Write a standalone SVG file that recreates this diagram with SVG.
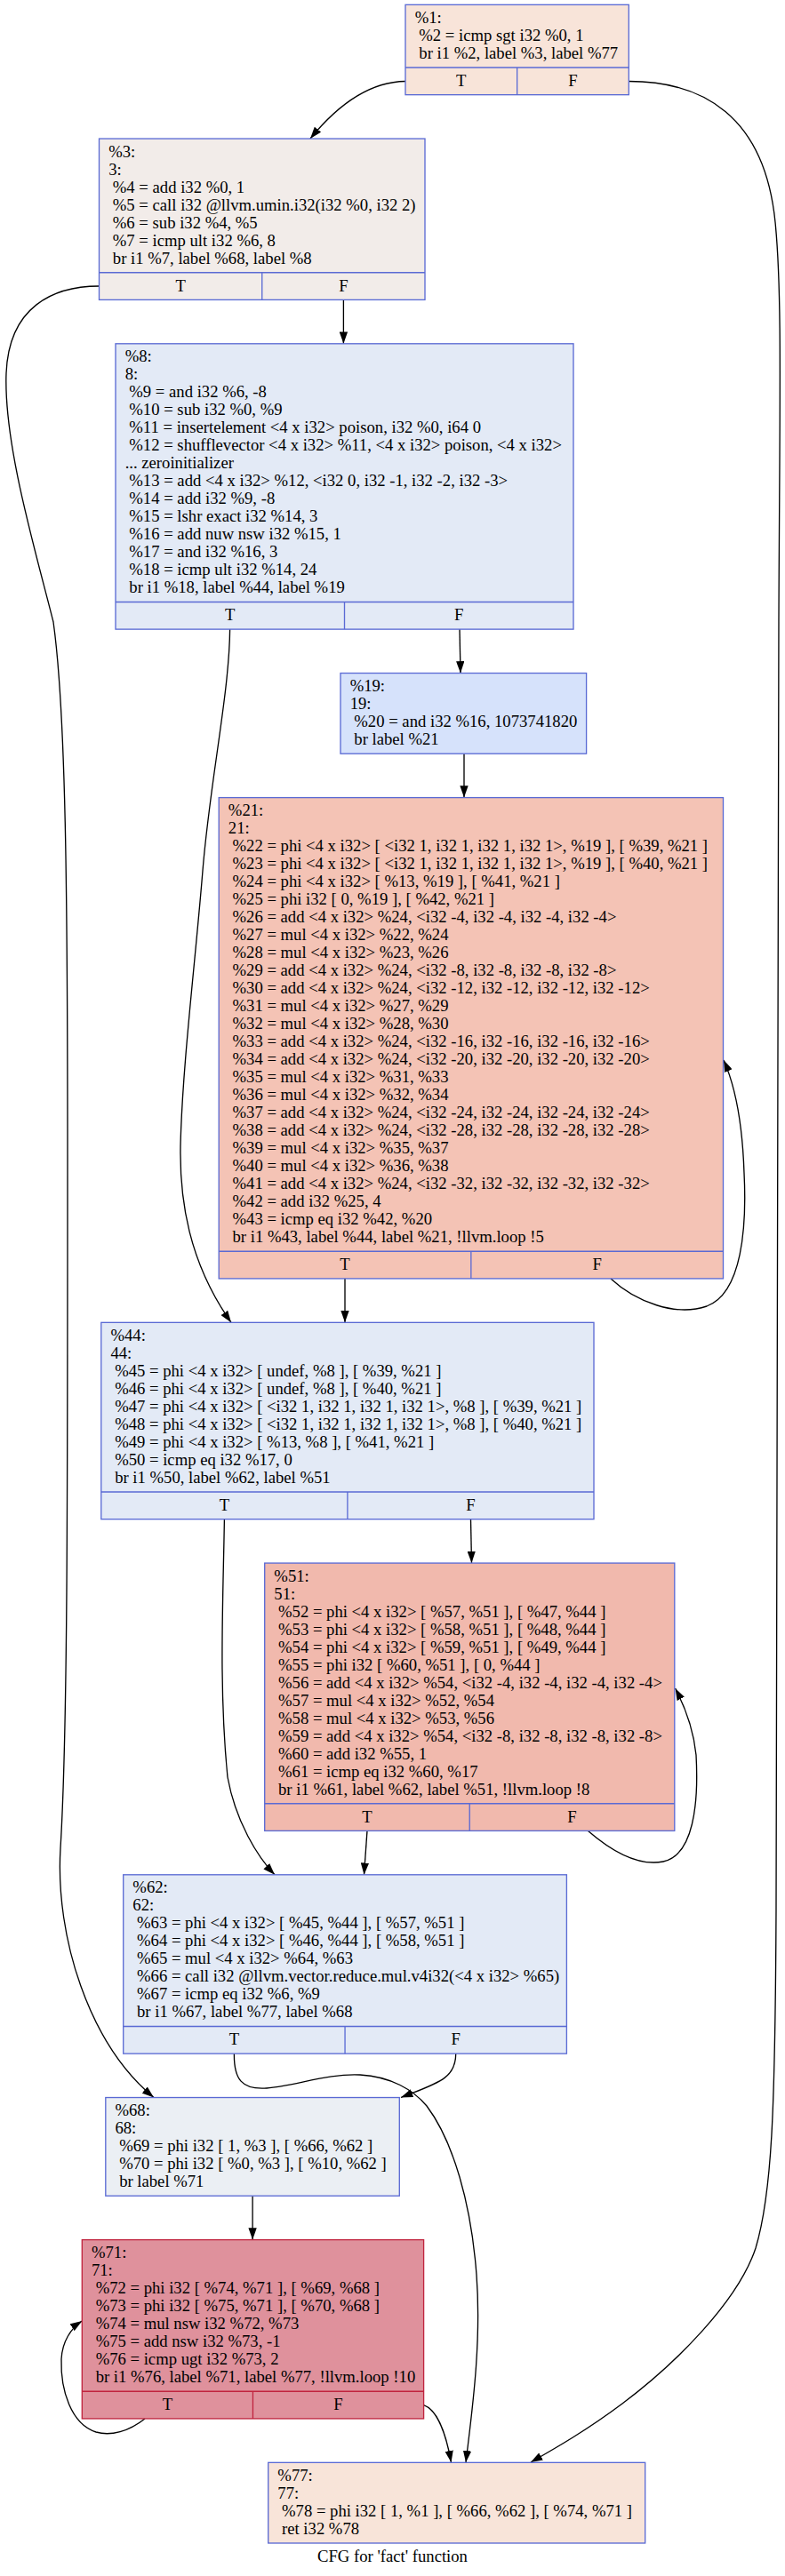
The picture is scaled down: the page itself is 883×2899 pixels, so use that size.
<svg xmlns="http://www.w3.org/2000/svg" width="883" height="2899" viewBox="0 0 883 2899">
<defs>
<style>
text{font-family:"Liberation Serif","Times New Roman",serif;font-size:18.67px;fill:#000}
.tf{text-anchor:middle}
.box{stroke:#5a6ad4;stroke-width:1.33}
.boxr{stroke:#c0243e;stroke-width:1.33}
.sep{stroke:#5a6ad4;stroke-width:1.33}
.sepr{stroke:#c0243e;stroke-width:1.33}
.e{fill:none;stroke:#000;stroke-width:1.33;marker-end:url(#ah)}
.peach{fill:#f8e4d9}
.gray{fill:#f2ece9}
.lblue{fill:#e3eaf6}
.blue{fill:#d6e2fb}
.salmon{fill:#f4c3b5}
.salmon2{fill:#f1b9ad}
.gblue{fill:#ebeff4}
.rose{fill:#df919c}
</style>
<marker id="ah" markerUnits="userSpaceOnUse" viewBox="0 0 13.33 9.33" refX="13.33" refY="4.67" markerWidth="13.33" markerHeight="9.33" orient="auto">
<path d="M0,0 L13.33,4.67 L0,9.33 z" fill="#000"/>
</marker>
</defs>
<rect width="883" height="2899" fill="#fff"/>

<g id="edges">
<path class="e" d="M456,91.5 C415,92 380,118 349,156"/>
<path class="e" d="M707.3,91.5 C790,91.5 860,130 872,250 C880,330 877,450 876,700 C874,1300 874,1900 873,2150 C872,2380 868,2470 850,2530 C830,2590 760,2660 700,2705 C660,2735 625,2755 597,2771"/>
<path class="e" d="M111.5,322 C60,322 10,345 7,420 C4,500 40,620 60,700 C74,800 76,1000 76,1300 C76,1700 76,1950 68,2080 C62,2180 100,2300 173,2360.5"/>
<path class="e" d="M386.4,337.4 L386.4,386.8"/>
<path class="e" d="M258.6,708.1 C258,780 236,880 228,980 C220,1080 205,1200 203,1290 C202,1350 212,1420 260,1488.3"/>
<path class="e" d="M517,708.1 L518,757.5"/>
<path class="e" d="M522,848.2 L522,897.6"/>
<path class="e" d="M687,1439 C715,1465 760,1482 795,1470 C835,1455 840,1380 837,1320 C835,1260 826,1220 814,1193"/>
<path class="e" d="M388,1438.9 L388,1488.3"/>
<path class="e" d="M252.4,1709.7 C251,1800 246,1900 256,2000 C265,2050 290,2090 309,2109.8"/>
<path class="e" d="M529.5,1709.7 L530.5,1759"/>
<path class="e" d="M661.5,2060.4 C690,2085 720,2100 746,2095 C780,2088 786,2030 783,1975 C780,1945 770,1920 759.6,1900"/>
<path class="e" d="M413,2060.4 L409.5,2109.8"/>
<path class="e" d="M263.4,2311.1 C263,2340 272,2352 300,2350 C330,2348 370,2333 405,2335 C440,2337 465,2352 480,2370 C510,2410 530,2480 536,2560 C542,2640 530,2720 524,2771.3"/>
<path class="e" d="M512.7,2311.1 C513,2340 490,2345 451,2360.5"/>
<path class="e" d="M284.1,2471.2 L284.1,2520.6"/>
<path class="e" d="M163,2721.9 C145,2736 125,2742 108,2737 C80,2728 68,2690 69,2655 C70,2635 80,2620 92.3,2612"/>
<path class="e" d="M476.6,2706.6 C492,2712 502,2740 507.5,2771.3"/>
</g>

<g id="n1" transform="translate(456,5.33)">
<rect class="box peach" width="251.3" height="101.33"/>
<line class="sep" x1="0" y1="70.67" x2="251.3" y2="70.67"/>
<line class="sep" x1="125.65" y1="70.67" x2="125.65" y2="101.33"/>
<text x="10.67" y="20.7">%1:</text>
<text x="15.33" y="40.7">%2 = icmp sgt i32 %0, 1</text>
<text x="15.33" y="60.7">br i1 %2, label %3, label %77</text>
<text class="tf" x="62.8" y="91.67">T</text>
<text class="tf" x="188.5" y="91.67">F</text>
</g>

<g id="n3" transform="translate(111.5,156.07)">
<rect class="box gray" width="366.5" height="181.33"/>
<line class="sep" x1="0" y1="150.67" x2="366.5" y2="150.67"/>
<line class="sep" x1="183.25" y1="150.67" x2="183.25" y2="181.33"/>
<text x="10.67" y="20.7">%3:</text>
<text x="10.67" y="40.7">3:</text>
<text x="15.33" y="60.7">%4 = add i32 %0, 1</text>
<text x="15.33" y="80.7">%5 = call i32 @llvm.umin.i32(i32 %0, i32 2)</text>
<text x="15.33" y="100.7">%6 = sub i32 %4, %5</text>
<text x="15.33" y="120.7">%7 = icmp ult i32 %6, 8</text>
<text x="15.33" y="140.7">br i1 %7, label %68, label %8</text>
<text class="tf" x="91.6" y="171.67">T</text>
<text class="tf" x="274.9" y="171.67">F</text>
</g>

<g id="n8" transform="translate(130,386.8)">
<rect class="box lblue" width="515" height="321.33"/>
<line class="sep" x1="0" y1="290.67" x2="515" y2="290.67"/>
<line class="sep" x1="257.5" y1="290.67" x2="257.5" y2="321.33"/>
<text x="10.67" y="20.7">%8:</text>
<text x="10.67" y="40.7">8:</text>
<text x="15.33" y="60.7">%9 = and i32 %6, -8</text>
<text x="15.33" y="80.7">%10 = sub i32 %0, %9</text>
<text x="15.33" y="100.7">%11 = insertelement &lt;4 x i32&gt; poison, i32 %0, i64 0</text>
<text x="15.33" y="120.7">%12 = shufflevector &lt;4 x i32&gt; %11, &lt;4 x i32&gt; poison, &lt;4 x i32&gt;</text>
<text x="10.67" y="140.7">... zeroinitializer</text>
<text x="15.33" y="160.7">%13 = add &lt;4 x i32&gt; %12, &lt;i32 0, i32 -1, i32 -2, i32 -3&gt;</text>
<text x="15.33" y="180.7">%14 = add i32 %9, -8</text>
<text x="15.33" y="200.7">%15 = lshr exact i32 %14, 3</text>
<text x="15.33" y="220.7">%16 = add nuw nsw i32 %15, 1</text>
<text x="15.33" y="240.7">%17 = and i32 %16, 3</text>
<text x="15.33" y="260.7">%18 = icmp ult i32 %14, 24</text>
<text x="15.33" y="280.7">br i1 %18, label %44, label %19</text>
<text class="tf" x="128.75" y="311.67">T</text>
<text class="tf" x="386.25" y="311.67">F</text>
</g>

<g id="n19" transform="translate(383,757.53)">
<rect class="box blue" width="276.6" height="90.67"/>
<text x="10.67" y="20.7">%19:</text>
<text x="10.67" y="40.7">19:</text>
<text x="15.33" y="60.7">%20 = and i32 %16, 1073741820</text>
<text x="15.33" y="80.7">br label %21</text>
</g>

<g id="n21" transform="translate(246.2,897.6)">
<rect class="box salmon" width="567.3" height="541.33"/>
<line class="sep" x1="0" y1="510.67" x2="567.3" y2="510.67"/>
<line class="sep" x1="283.65" y1="510.67" x2="283.65" y2="541.33"/>
<text x="10.67" y="20.7">%21:</text>
<text x="10.67" y="40.7">21:</text>
<text x="15.33" y="60.7">%22 = phi &lt;4 x i32&gt; [ &lt;i32 1, i32 1, i32 1, i32 1&gt;, %19 ], [ %39, %21 ]</text>
<text x="15.33" y="80.7">%23 = phi &lt;4 x i32&gt; [ &lt;i32 1, i32 1, i32 1, i32 1&gt;, %19 ], [ %40, %21 ]</text>
<text x="15.33" y="100.7">%24 = phi &lt;4 x i32&gt; [ %13, %19 ], [ %41, %21 ]</text>
<text x="15.33" y="120.7">%25 = phi i32 [ 0, %19 ], [ %42, %21 ]</text>
<text x="15.33" y="140.7">%26 = add &lt;4 x i32&gt; %24, &lt;i32 -4, i32 -4, i32 -4, i32 -4&gt;</text>
<text x="15.33" y="160.7">%27 = mul &lt;4 x i32&gt; %22, %24</text>
<text x="15.33" y="180.7">%28 = mul &lt;4 x i32&gt; %23, %26</text>
<text x="15.33" y="200.7">%29 = add &lt;4 x i32&gt; %24, &lt;i32 -8, i32 -8, i32 -8, i32 -8&gt;</text>
<text x="15.33" y="220.7">%30 = add &lt;4 x i32&gt; %24, &lt;i32 -12, i32 -12, i32 -12, i32 -12&gt;</text>
<text x="15.33" y="240.7">%31 = mul &lt;4 x i32&gt; %27, %29</text>
<text x="15.33" y="260.7">%32 = mul &lt;4 x i32&gt; %28, %30</text>
<text x="15.33" y="280.7">%33 = add &lt;4 x i32&gt; %24, &lt;i32 -16, i32 -16, i32 -16, i32 -16&gt;</text>
<text x="15.33" y="300.7">%34 = add &lt;4 x i32&gt; %24, &lt;i32 -20, i32 -20, i32 -20, i32 -20&gt;</text>
<text x="15.33" y="320.7">%35 = mul &lt;4 x i32&gt; %31, %33</text>
<text x="15.33" y="340.7">%36 = mul &lt;4 x i32&gt; %32, %34</text>
<text x="15.33" y="360.7">%37 = add &lt;4 x i32&gt; %24, &lt;i32 -24, i32 -24, i32 -24, i32 -24&gt;</text>
<text x="15.33" y="380.7">%38 = add &lt;4 x i32&gt; %24, &lt;i32 -28, i32 -28, i32 -28, i32 -28&gt;</text>
<text x="15.33" y="400.7">%39 = mul &lt;4 x i32&gt; %35, %37</text>
<text x="15.33" y="420.7">%40 = mul &lt;4 x i32&gt; %36, %38</text>
<text x="15.33" y="440.7">%41 = add &lt;4 x i32&gt; %24, &lt;i32 -32, i32 -32, i32 -32, i32 -32&gt;</text>
<text x="15.33" y="460.7">%42 = add i32 %25, 4</text>
<text x="15.33" y="480.7">%43 = icmp eq i32 %42, %20</text>
<text x="15.33" y="500.7">br i1 %43, label %44, label %21, !llvm.loop !5</text>
<text class="tf" x="141.8" y="531.67">T</text>
<text class="tf" x="425.5" y="531.67">F</text>
</g>

<g id="n44" transform="translate(113.8,1488.33)">
<rect class="box lblue" width="554.2" height="221.33"/>
<line class="sep" x1="0" y1="190.67" x2="554.2" y2="190.67"/>
<line class="sep" x1="277.1" y1="190.67" x2="277.1" y2="221.33"/>
<text x="10.67" y="20.7">%44:</text>
<text x="10.67" y="40.7">44:</text>
<text x="15.33" y="60.7">%45 = phi &lt;4 x i32&gt; [ undef, %8 ], [ %39, %21 ]</text>
<text x="15.33" y="80.7">%46 = phi &lt;4 x i32&gt; [ undef, %8 ], [ %40, %21 ]</text>
<text x="15.33" y="100.7">%47 = phi &lt;4 x i32&gt; [ &lt;i32 1, i32 1, i32 1, i32 1&gt;, %8 ], [ %39, %21 ]</text>
<text x="15.33" y="120.7">%48 = phi &lt;4 x i32&gt; [ &lt;i32 1, i32 1, i32 1, i32 1&gt;, %8 ], [ %40, %21 ]</text>
<text x="15.33" y="140.7">%49 = phi &lt;4 x i32&gt; [ %13, %8 ], [ %41, %21 ]</text>
<text x="15.33" y="160.7">%50 = icmp eq i32 %17, 0</text>
<text x="15.33" y="180.7">br i1 %50, label %62, label %51</text>
<text class="tf" x="138.55" y="211.67">T</text>
<text class="tf" x="415.65" y="211.67">F</text>
</g>

<g id="n51" transform="translate(297.7,1759.07)">
<rect class="box salmon2" width="461.1" height="301.33"/>
<line class="sep" x1="0" y1="270.67" x2="461.1" y2="270.67"/>
<line class="sep" x1="230.55" y1="270.67" x2="230.55" y2="301.33"/>
<text x="10.67" y="20.7">%51:</text>
<text x="10.67" y="40.7">51:</text>
<text x="15.33" y="60.7">%52 = phi &lt;4 x i32&gt; [ %57, %51 ], [ %47, %44 ]</text>
<text x="15.33" y="80.7">%53 = phi &lt;4 x i32&gt; [ %58, %51 ], [ %48, %44 ]</text>
<text x="15.33" y="100.7">%54 = phi &lt;4 x i32&gt; [ %59, %51 ], [ %49, %44 ]</text>
<text x="15.33" y="120.7">%55 = phi i32 [ %60, %51 ], [ 0, %44 ]</text>
<text x="15.33" y="140.7">%56 = add &lt;4 x i32&gt; %54, &lt;i32 -4, i32 -4, i32 -4, i32 -4&gt;</text>
<text x="15.33" y="160.7">%57 = mul &lt;4 x i32&gt; %52, %54</text>
<text x="15.33" y="180.7">%58 = mul &lt;4 x i32&gt; %53, %56</text>
<text x="15.33" y="200.7">%59 = add &lt;4 x i32&gt; %54, &lt;i32 -8, i32 -8, i32 -8, i32 -8&gt;</text>
<text x="15.33" y="220.7">%60 = add i32 %55, 1</text>
<text x="15.33" y="240.7">%61 = icmp eq i32 %60, %17</text>
<text x="15.33" y="260.7">br i1 %61, label %62, label %51, !llvm.loop !8</text>
<text class="tf" x="115.3" y="291.67">T</text>
<text class="tf" x="345.8" y="291.67">F</text>
</g>

<g id="n62" transform="translate(138.7,2109.8)">
<rect class="box lblue" width="498.7" height="201.33"/>
<line class="sep" x1="0" y1="170.67" x2="498.7" y2="170.67"/>
<line class="sep" x1="249.35" y1="170.67" x2="249.35" y2="201.33"/>
<text x="10.67" y="20.7">%62:</text>
<text x="10.67" y="40.7">62:</text>
<text x="15.33" y="60.7">%63 = phi &lt;4 x i32&gt; [ %45, %44 ], [ %57, %51 ]</text>
<text x="15.33" y="80.7">%64 = phi &lt;4 x i32&gt; [ %46, %44 ], [ %58, %51 ]</text>
<text x="15.33" y="100.7">%65 = mul &lt;4 x i32&gt; %64, %63</text>
<text x="15.33" y="120.7">%66 = call i32 @llvm.vector.reduce.mul.v4i32(&lt;4 x i32&gt; %65)</text>
<text x="15.33" y="140.7">%67 = icmp eq i32 %6, %9</text>
<text x="15.33" y="160.7">br i1 %67, label %77, label %68</text>
<text class="tf" x="124.7" y="191.67">T</text>
<text class="tf" x="374" y="191.67">F</text>
</g>

<g id="n68" transform="translate(118.8,2360.53)">
<rect class="box gblue" width="330.5" height="110.67"/>
<text x="10.67" y="20.7">%68:</text>
<text x="10.67" y="40.7">68:</text>
<text x="15.33" y="60.7">%69 = phi i32 [ 1, %3 ], [ %66, %62 ]</text>
<text x="15.33" y="80.7">%70 = phi i32 [ %0, %3 ], [ %10, %62 ]</text>
<text x="15.33" y="100.7">br label %71</text>
</g>

<g id="n71" transform="translate(92.3,2520.6)">
<rect class="boxr rose" width="384.3" height="201.33"/>
<line class="sepr" x1="0" y1="170.67" x2="384.3" y2="170.67"/>
<line class="sepr" x1="192.15" y1="170.67" x2="192.15" y2="201.33"/>
<text x="10.67" y="20.7">%71:</text>
<text x="10.67" y="40.7">71:</text>
<text x="15.33" y="60.7">%72 = phi i32 [ %74, %71 ], [ %69, %68 ]</text>
<text x="15.33" y="80.7">%73 = phi i32 [ %75, %71 ], [ %70, %68 ]</text>
<text x="15.33" y="100.7">%74 = mul nsw i32 %72, %73</text>
<text x="15.33" y="120.7">%75 = add nsw i32 %73, -1</text>
<text x="15.33" y="140.7">%76 = icmp ugt i32 %73, 2</text>
<text x="15.33" y="160.7">br i1 %76, label %71, label %77, !llvm.loop !10</text>
<text class="tf" x="96.1" y="191.67">T</text>
<text class="tf" x="288.2" y="191.67">F</text>
</g>

<g id="n77" transform="translate(301.7,2771.33)">
<rect class="box peach" width="424" height="90.67"/>
<text x="10.67" y="20.7">%77:</text>
<text x="10.67" y="40.7">77:</text>
<text x="15.33" y="60.7">%78 = phi i32 [ 1, %1 ], [ %66, %62 ], [ %74, %71 ]</text>
<text x="15.33" y="80.7">ret i32 %78</text>
</g>

<text id="title" class="tf" x="441.5" y="2883">CFG for 'fact' function</text>
</svg>
